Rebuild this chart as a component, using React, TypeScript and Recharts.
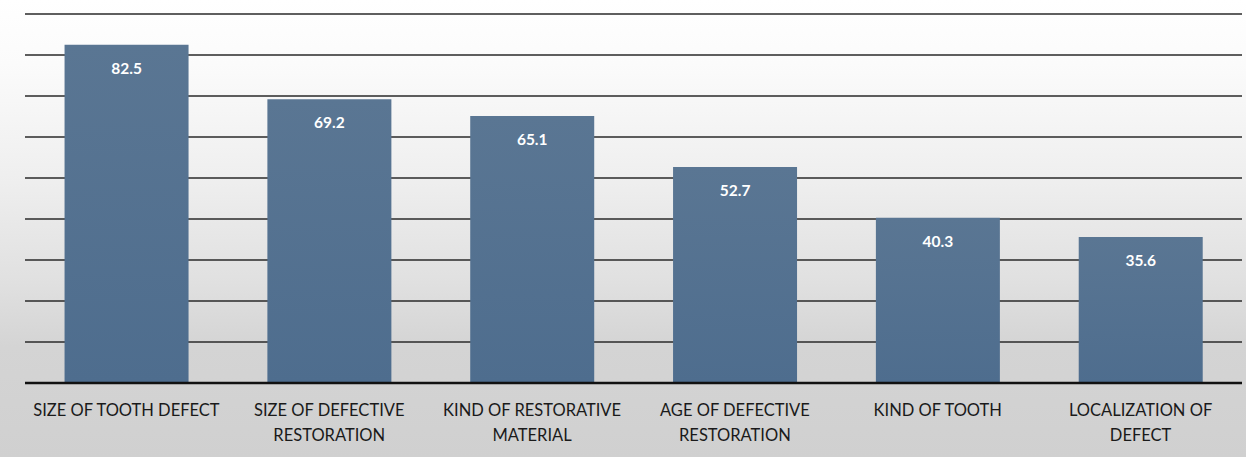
import { Bar, BarChart, CartesianGrid, LabelList, XAxis, YAxis } from "recharts";

const factors = [
  "SIZE OF TOOTH DEFECT",
  "SIZE OF DEFECTIVE\nRESTORATION",
  "KIND OF RESTORATIVE\nMATERIAL",
  "AGE OF DEFECTIVE\nRESTORATION",
  "KIND OF TOOTH",
  "LOCALIZATION OF\nDEFECT",
];
const scores = [82.5, 69.2, 65.1, 52.7, 40.3, 35.6];
const yTicks = [0, 10, 20, 30, 40, 50, 60, 70, 80, 90];

const data = factors.map((name, i) => ({ name, value: scores[i] }));

const FONT = "Lato, 'Open Sans', sans-serif";

function FactorTick({ x, y, payload }: any) {
  const lines = String(payload.value).split("\n");
  return (
    <text
      x={x}
      y={y + 25}
      textAnchor="middle"
      fill="#1a1a1a"
      fontSize={16.5}
      fontFamily={FONT}
    >
      {lines.map((line, i) => (
        <tspan key={i} x={x} dy={i === 0 ? 0 : 25}>
          {line}
        </tspan>
      ))}
    </text>
  );
}

function ValueLabel({ x, y, width, value }: any) {
  return (
    <text
      x={x + width / 2}
      y={y + 23}
      textAnchor="middle"
      dominantBaseline="central"
      fill="#ffffff"
      fontSize={15.5}
      fontWeight={700}
      fontFamily={FONT}
    >
      {value}
    </text>
  );
}

export default function App() {
  return (
    <div
      style={{
        position: "absolute",
        left: 0,
        top: 0,
        width: 1246,
        height: 457,
        background:
          "linear-gradient(to bottom, #ffffff 0%, #fbfbfb 14%, #eeeeee 40%, #e0e0e0 62%, #d4d4d4 76%, #d0d0d0 100%)",
      }}
    >
      <BarChart
        width={1246}
        height={457}
        data={data}
        margin={{ top: 14, right: 4, bottom: 14, left: 25 }}
        barCategoryGap="19.5%"
      >
        <defs>
          <linearGradient id="barFill" x1="0" y1="0" x2="0" y2="1">
            <stop offset="0%" stopColor="#5a7693" />
            <stop offset="100%" stopColor="#4e6d8e" />
          </linearGradient>
        </defs>
        <CartesianGrid vertical={false} stroke="#2a2a2a" strokeWidth={1.5} />
        <YAxis hide domain={[0, 90]} ticks={yTicks} />
        <XAxis
          dataKey="name"
          height={60}
          interval={0}
          tickLine={false}
          axisLine={{ stroke: "#111111", strokeWidth: 2.5 }}
          tick={<FactorTick />}
        />
        <Bar dataKey="value" fill="url(#barFill)" isAnimationActive={false}>
          <LabelList dataKey="value" content={<ValueLabel />} />
        </Bar>
      </BarChart>
    </div>
  );
}
